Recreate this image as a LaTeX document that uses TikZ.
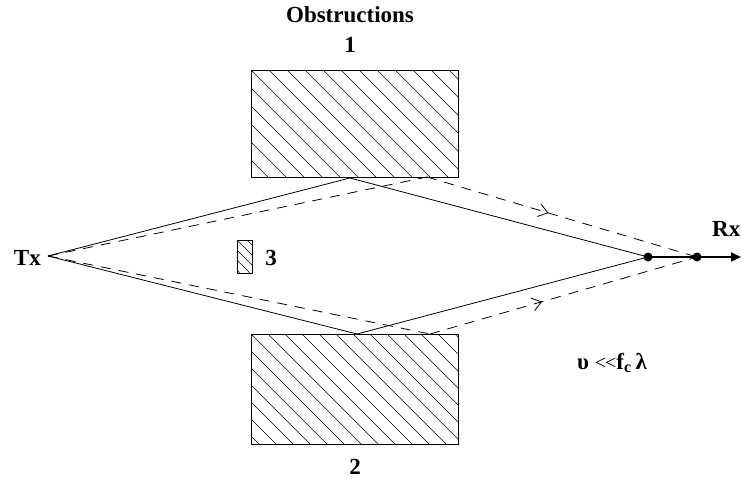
\documentclass[tikz,border=0pt]{standalone}
\usepackage{fontspec}
\setmainfont{Liberation Serif}
\usetikzlibrary{arrows.meta,decorations.markings}
\begin{document}
\begin{tikzpicture}[x=1pt,y=-1pt,
  lbl/.style={font=\fontsize{23}{25}\selectfont\bfseries, inner sep=0},
  hatched/.style={draw, line width=1pt, inner sep=0,
    path picture={\foreach \k in {-30,...,30}
      \draw[line width=0.7pt] ([xshift=\k*#1 pt]path picture bounding box.north west) -- ++(260,260);}},
  ray/.style={line width=0.8pt},
  dray/.style={line width=0.8pt, dash pattern=on 10pt off 8pt},
  midarrow/.style={postaction={decorate}, decoration={markings,
    mark=at position #1 with {\arrow[line width=0.8pt]{Straight Barb[length=9pt,width=13pt]}}}},
  dot/.style={circle, fill, inner sep=0, minimum size=9pt}]
\useasboundingbox (0,0) rectangle (742,479);

% obstructions
\node[hatched=18, minimum width=207pt, minimum height=107pt] (ob1) at (354.5,123.5) {};
\node[hatched=17, minimum width=207pt, minimum height=110pt] (ob2) at (354.5,389) {};
\node[hatched=10, minimum width=15pt, minimum height=33pt] (ob3) at (244.5,256.5) {};

% labels
\node[lbl] (obs) at (350,15) {Obstructions};
\node[lbl] (n1) at (350,45) {1};
\node[lbl] (n2) at (355,467) {2};
\node[lbl] (n3) at (271,258) {3};
\node[lbl, anchor=east] (txl) at (41,258) {Tx};
\node[lbl, anchor=west] (rxl) at (712,229) {Rx};
\node[lbl, anchor=west] (form) at (577,363) {υ {\mdseries\fontsize{20}{22}\selectfont <\kern-1pt<}f\textsubscript{c}\,λ};

% ray points
\coordinate (tx) at (48,256);
\coordinate (r1) at (350,178);
\coordinate (r2) at (357,334);
\coordinate (d1) at (427,177);
\coordinate (d2) at (430,334);
\node[dot] (rxa) at (648,257) {};
\node[dot] (rxb) at (697,257) {};
\coordinate (rxend) at (741,257);

% solid rays
\draw[ray] (tx) -- (r1) -- (rxa.center);
\draw[ray] (tx) -- (r2) -- (rxa.center);
% dashed rays
\draw[dray] (tx) -- (d1);
\draw[dray, midarrow=0.45] (d1) -- (rxb.center);
\draw[dray] (tx) -- (d2);
\draw[dray, midarrow=0.42] (d2) -- (rxb.center);
% receiver arrow
\draw[line width=1.8pt, -{Triangle[length=10pt,width=9pt]}] (rxa.center) -- (rxend);
\end{tikzpicture}
\end{document}
